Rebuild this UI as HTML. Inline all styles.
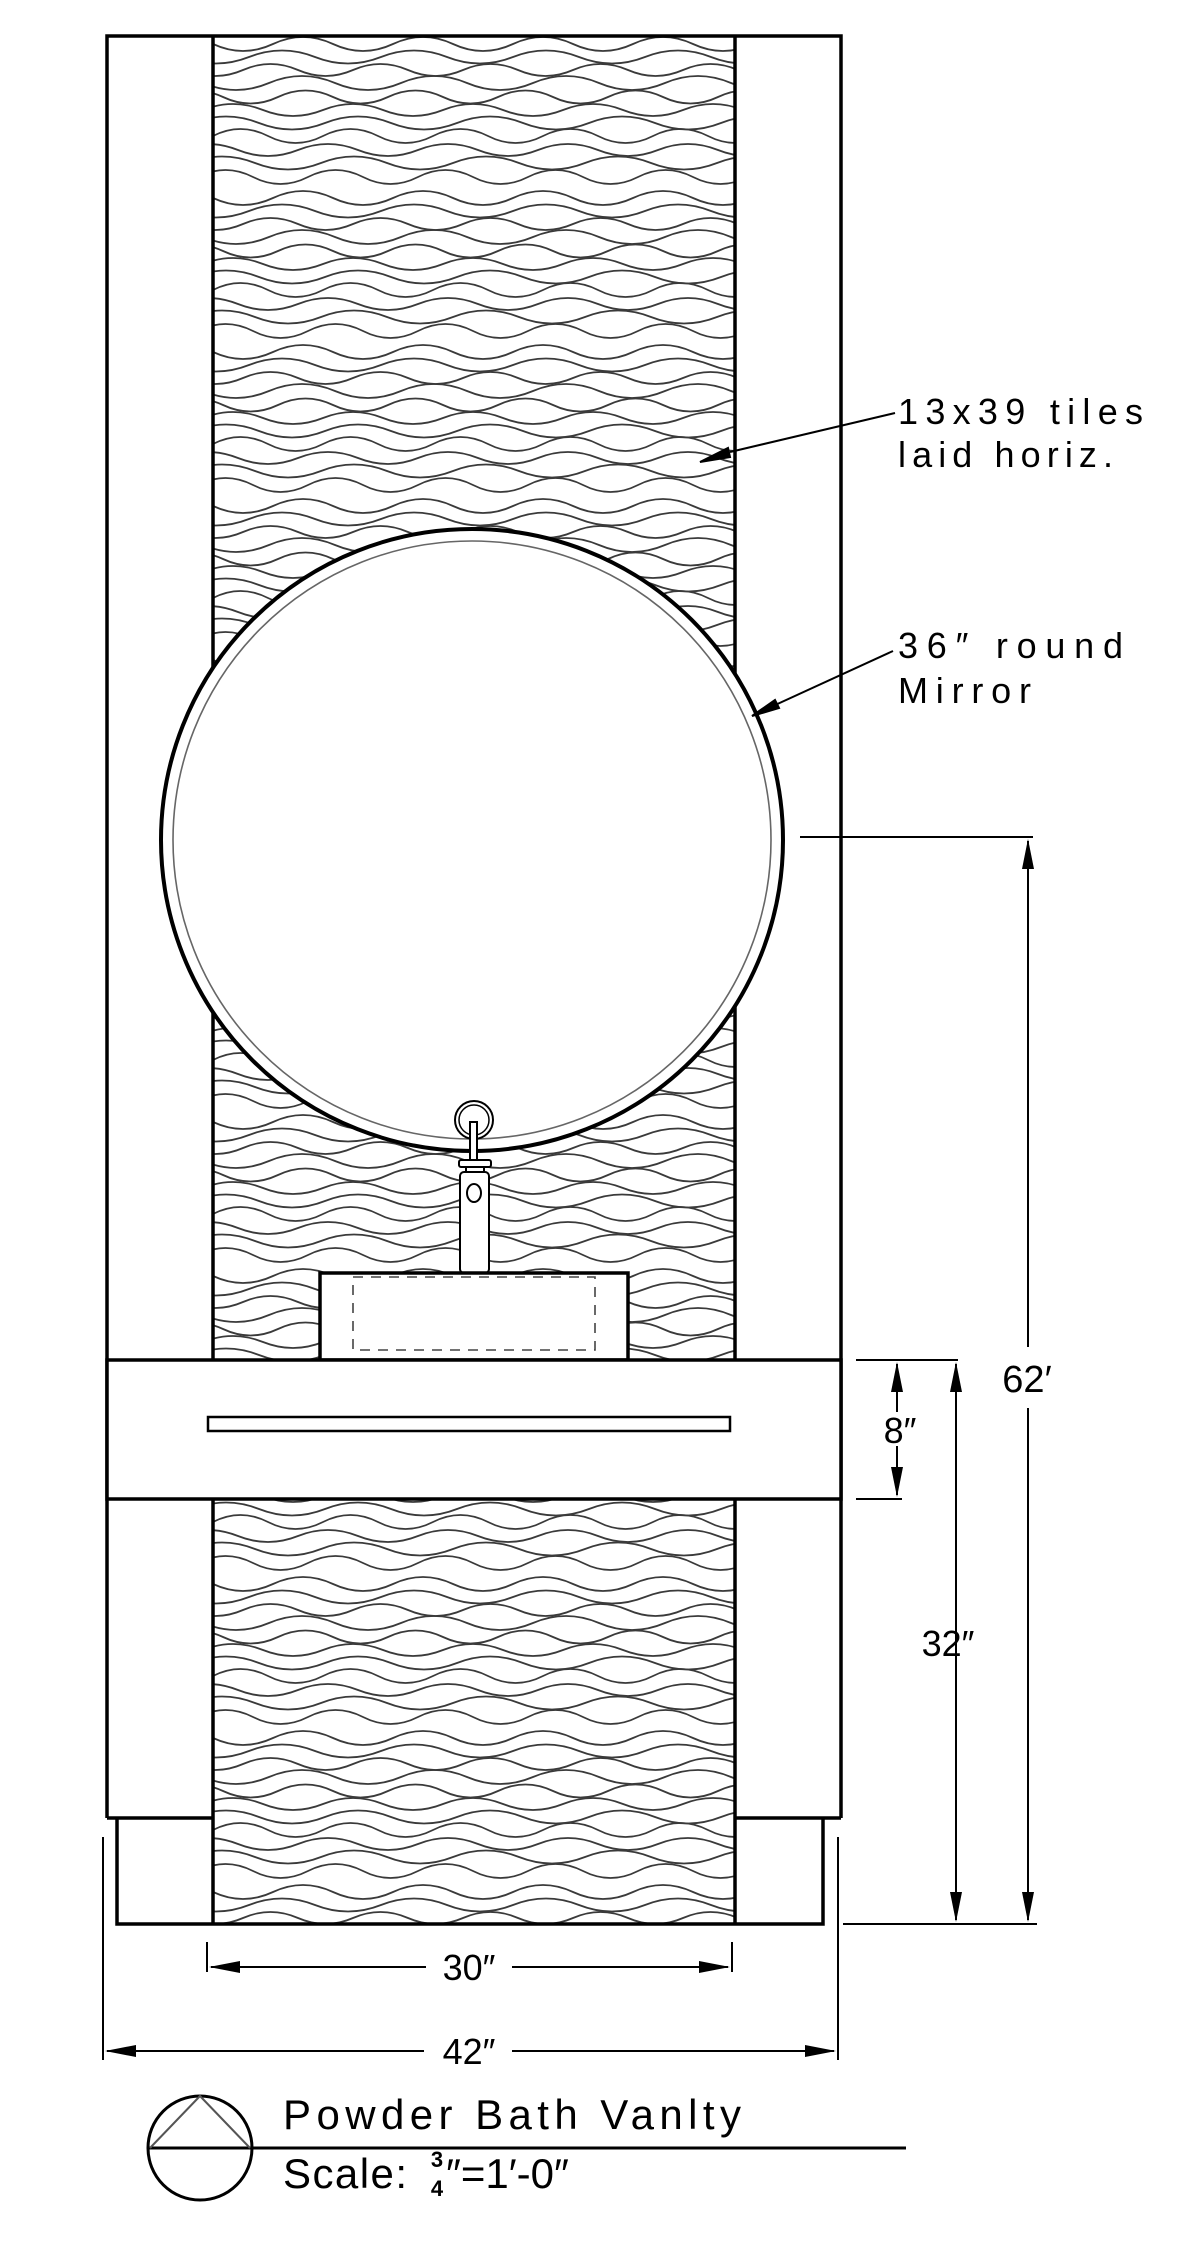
<!DOCTYPE html>
<html><head><meta charset="utf-8"><style>html,body{margin:0;padding:0;background:#fff}svg{display:block}</style></head>
<body>
<svg width="1193" height="2250" viewBox="0 0 1193 2250" xmlns="http://www.w3.org/2000/svg">
<defs>
<pattern id="wv" x="213" y="36" width="660" height="154" patternUnits="userSpaceOnUse">
<g fill="none" stroke="#3a3a3a" stroke-width="1.8">
<path d="M-60 8 q30 -14 60 0 t60 0 t60 0 t60 0 t60 0 t60 0 t60 0 t60 0 t60 0 t60 0 t60 0 t60 0 t60 0"/>
<path d="M-30 21 q33 13 66 0 t66 0 t66 0 t66 0 t66 0 t66 0 t66 0 t66 0 t66 0 t66 0 t66 0"/>
<path d="M-80 34 q27.5 -12 55 0 t55 0 t55 0 t55 0 t55 0 t55 0 t55 0 t55 0 t55 0 t55 0 t55 0 t55 0 t55 0 t55 0"/>
<path d="M-10 47 q33 14 66 0 t66 0 t66 0 t66 0 t66 0 t66 0 t66 0 t66 0 t66 0 t66 0 t66 0"/>
<path d="M-45 61 q27.5 -13 55 0 t55 0 t55 0 t55 0 t55 0 t55 0 t55 0 t55 0 t55 0 t55 0 t55 0 t55 0 t55 0"/>
<path d="M-70 74 q30 12 60 0 t60 0 t60 0 t60 0 t60 0 t60 0 t60 0 t60 0 t60 0 t60 0 t60 0 t60 0 t60 0"/>
<path d="M-20 87 q33 -13 66 0 t66 0 t66 0 t66 0 t66 0 t66 0 t66 0 t66 0 t66 0 t66 0 t66 0"/>
<path d="M-55 100 q27.5 14 55 0 t55 0 t55 0 t55 0 t55 0 t55 0 t55 0 t55 0 t55 0 t55 0 t55 0 t55 0 t55 0 t55 0"/>
<path d="M-35 114 q30 -12 60 0 t60 0 t60 0 t60 0 t60 0 t60 0 t60 0 t60 0 t60 0 t60 0 t60 0 t60 0"/>
<path d="M-90 127 q33 13 66 0 t66 0 t66 0 t66 0 t66 0 t66 0 t66 0 t66 0 t66 0 t66 0 t66 0 t66 0"/>
<path d="M-15 141 q27.5 -14 55 0 t55 0 t55 0 t55 0 t55 0 t55 0 t55 0 t55 0 t55 0 t55 0 t55 0 t55 0 t55 0"/>
</g>
</pattern>
</defs>

<rect x="213" y="36" width="522" height="1888" fill="url(#wv)"/>

<g fill="none" stroke="#000" stroke-width="3.5">
  <path d="M107 1818 V36 H841 V1818"/>
  <path d="M107 1818 H213 M735 1818 H841"/>
  <path d="M213 36 V1924 M735 36 V1924"/>
  <path d="M117 1818 V1924 H823 V1818"/>
</g>

<circle cx="472" cy="840" r="311" fill="#fff" stroke="#000" stroke-width="4"/>
<circle cx="472" cy="840" r="299" fill="none" stroke="#666" stroke-width="1.6"/>

<g stroke="#000" stroke-width="2" fill="#fff">
  <circle cx="474" cy="1120" r="19"/>
  <circle cx="474" cy="1120" r="15" fill="none" stroke-width="1.5"/>
  <rect x="470" y="1122" width="7" height="38"/>
  <rect x="459" y="1160" width="32" height="7" rx="2"/>
  <rect x="466" y="1167" width="18" height="8"/>
  <rect x="460" y="1172" width="29" height="101" rx="4"/>
  <ellipse cx="474" cy="1193" rx="7" ry="9"/>
</g>

<rect x="320" y="1273" width="308" height="87" fill="#fff" stroke="#000" stroke-width="3.5"/>
<rect x="353" y="1277" width="242" height="73" fill="none" stroke="#444" stroke-width="1.6" stroke-dasharray="10 8"/>

<rect x="107" y="1360" width="734" height="139" fill="#fff" stroke="#000" stroke-width="3.5"/>
<rect x="208" y="1417" width="522" height="14" fill="none" stroke="#000" stroke-width="2.5"/>

<g stroke="#000" stroke-width="2" fill="#000">
  <path d="M895 413 L730 452" fill="none"/>
  <path d="M700 462 L728 448 L730 457 Z"/>
  <path d="M893 651 L760 712" fill="none"/>
  <path d="M752 716 L775 700 L779 708 Z"/>
</g>

<g stroke="#000" stroke-width="2" fill="none">
  <path d="M856 1360 H958 M856 1499 H902"/>
  <path d="M897 1364 V1412 M897 1446 V1495"/>
  <path d="M956 1364 V1920"/>
  <path d="M800 837 H1033 M843 1924 H1037"/>
  <path d="M1028 841 V1347 M1028 1408 V1920"/>
  <path d="M207 1942 V1972 M732 1942 V1972"/>
  <path d="M211 1967 H426 M512 1967 H728"/>
  <path d="M103 1837 V2060 M838 1837 V2060"/>
  <path d="M107 2051 H424 M512 2051 H834"/>
</g>
<g fill="#000">
  <path d="M897 1362 L891 1392 L903 1392 Z"/>
  <path d="M897 1497 L891 1467 L903 1467 Z"/>
  <path d="M956 1362 L950 1392 L962 1392 Z"/>
  <path d="M956 1922 L950 1892 L962 1892 Z"/>
  <path d="M1028 839 L1022 869 L1034 869 Z"/>
  <path d="M1028 1922 L1022 1892 L1034 1892 Z"/>
  <path d="M209 1967 L240 1961 L240 1973 Z"/>
  <path d="M730 1967 L699 1961 L699 1973 Z"/>
  <path d="M105 2051 L136 2045 L136 2057 Z"/>
  <path d="M836 2051 L805 2045 L805 2057 Z"/>
</g>

<g font-family="'Liberation Sans', sans-serif" fill="#000">
  <text x="898" y="424" font-size="36" textLength="245" lengthAdjust="spacing">13x39  tiles</text>
  <text x="898" y="467" font-size="36" textLength="215" lengthAdjust="spacing">laid  horiz.</text>
  <text x="898" y="658" font-size="36" textLength="225" lengthAdjust="spacing">36″  round</text>
  <text x="898" y="703" font-size="36" textLength="133" lengthAdjust="spacing">Mirror</text>
  <text x="1027" y="1392" font-size="38" text-anchor="middle">62′</text>
  <text x="900" y="1443" font-size="36" text-anchor="middle">8″</text>
  <text x="948" y="1656" font-size="36" text-anchor="middle">32″</text>
  <text x="469" y="1980" font-size="36" text-anchor="middle">30″</text>
  <text x="469" y="2064" font-size="36" text-anchor="middle">42″</text>
  <text x="283" y="2129" font-size="42" textLength="458" lengthAdjust="spacing">Powder Bath Vanlty</text>
  <text x="283" y="2188" font-size="42" textLength="124" lengthAdjust="spacing">Scale:</text>
  <text x="437" y="2167" font-size="22" font-weight="bold" text-anchor="middle">3</text>
  <text x="437" y="2196" font-size="22" font-weight="bold" text-anchor="middle">4</text>
  <text x="446" y="2188" font-size="42">″=1′-0″</text>
</g>

<g stroke="#000" fill="none">
  <circle cx="200" cy="2148" r="52" stroke-width="3"/>
  <path d="M148 2148 H906" stroke-width="3"/>
  <path d="M150 2148 L200 2096 L250 2148" stroke="#555" stroke-width="2"/>
</g>
</svg>
</body></html>
